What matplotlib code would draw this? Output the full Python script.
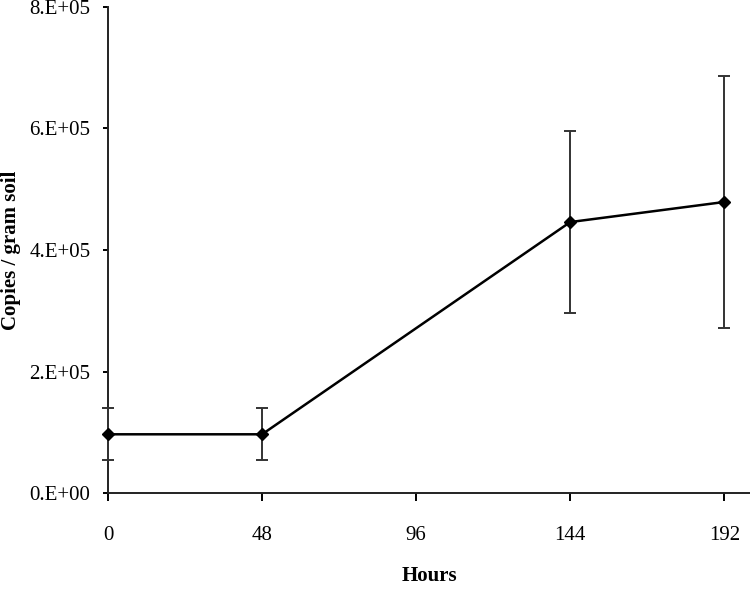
import matplotlib
matplotlib.use('Agg')
import matplotlib.pyplot as plt
from matplotlib.ticker import FuncFormatter

# data
hours = [0, 48, 144, 192]
copies = [97000, 97000, 446000, 479000]
errors = [43000, 43000, 150000, 207000]
xticks = [0, 48, 96, 144, 192]
yticks = [0, 2e5, 4e5, 6e5, 8e5]

plt.rcParams['font.family'] = 'Liberation Serif'

fig = plt.figure(figsize=(7.5, 5.89), dpi=100)
ax = fig.add_axes([0.144, 0.1625, 0.856, 0.826])

ax.errorbar(hours, copies, yerr=errors, color='black', lw=1.8,
            marker='D', markersize=6, ecolor='#333333', elinewidth=1.4,
            capsize=4, capthick=1.4, clip_on=False, zorder=3)

ax.set_xlim(0, 200)
ax.set_ylim(0, 8e5)
ax.set_xticks(xticks)
ax.set_yticks(yticks)
ax.yaxis.set_major_formatter(FuncFormatter(lambda v, p: '%d.E+%02d' % (v / 1e5 if v else 0, 5 if v else 0)))

for s in ['top', 'right']:
    ax.spines[s].set_visible(False)
for s in ['left', 'bottom']:
    ax.spines[s].set_linewidth(1.4)
    ax.spines[s].set_color('#222222')

ax.tick_params(axis='x', direction='out', length=5.5, width=1.4, labelsize=15, pad=18)
ax.tick_params(axis='y', direction='out', length=3.6, width=1.4, labelsize=15, pad=9)

ax.set_xlabel('Hours', fontsize=15, fontweight='bold', labelpad=15)
ax.set_ylabel('Copies / gram soil', fontsize=15, fontweight='bold', labelpad=6)

fig.savefig('out.png', dpi=100)
